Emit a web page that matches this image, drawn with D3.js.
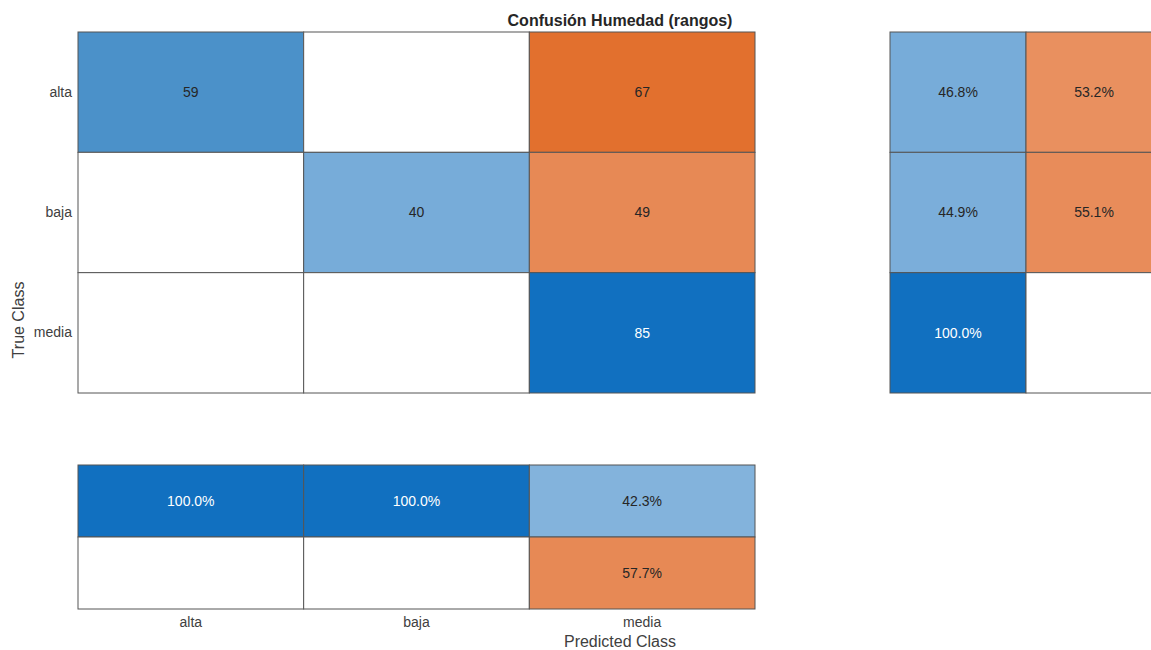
<!DOCTYPE html>
<html><head><meta charset="utf-8">
<script src="https://cdn.jsdelivr.net/npm/d3@7"></script>
<style>body{margin:0;background:#fff;} svg{display:block;font-family:"Liberation Sans",Arial,sans-serif;}</style>
</head><body>
<svg id="c" width="1151" height="650"></svg>
<script>
const categories = ["alta", "baja", "media"];
const counts = [[59, 0, 67], [0, 40, 49], [0, 0, 85]];
const rowSummaryCols = ["correct", "incorrect"];
const rowSummary = [[46.8, 53.2], [44.9, 55.1], [100.0, 0]];
const colSummaryRows = ["correct", "incorrect"];
const colSummary = [[100.0, 100.0, 42.3], [0, 0, 57.7]];
const title = "Confusión Humedad (rangos)";
const xLabel = "Predicted Class";
const yLabel = "True Class";

const svg = d3.select("#c");
const maxCount = d3.max(counts.flat());

const blue = d3.scaleLinear().domain([0, 0.45, 0.7, 1]).range(["#ffffff", "#7baeda", "#4a90c9", "#1170c0"]).clamp(true);
const orange = d3.scaleLinear().domain([0, 0.55, 0.79, 1]).range(["#ffffff", "#e88c5a", "#e2702e", "#d95319"]).clamp(true);

const x = d3.scaleBand().domain(categories).range([78, 755]);
const y = d3.scaleBand().domain(categories).range([32, 393]);
const xr = d3.scaleBand().domain(rowSummaryCols).range([890, 1162]);
const yb = d3.scaleBand().domain(colSummaryRows).range([465, 609]);

function cell(g, x0, y0, w, h, frac, isGood, label) {
  const fill = frac > 0 ? (isGood ? blue(frac) : orange(frac)) : "#ffffff";
  g.append("rect").attr("x", x0).attr("y", y0).attr("width", w).attr("height", h)
    .attr("fill", fill).attr("stroke", "#555").attr("stroke-width", 1);
  if (label !== null) {
    g.append("text").attr("x", x0 + w / 2).attr("y", y0 + h / 2).attr("dy", "0.35em")
      .attr("text-anchor", "middle").attr("font-size", 14)
      .attr("fill", frac > 0.85 ? "#ffffff" : "#262626").text(label);
  }
}

const gm = svg.append("g");
categories.forEach((tr, i) => {
  categories.forEach((pr, j) => {
    const v = counts[i][j];
    cell(gm, x(pr), y(tr), x.bandwidth(), y.bandwidth(), v / maxCount, i === j, v > 0 ? String(v) : null);
  });
});

const gr = svg.append("g");
categories.forEach((tr, i) => {
  rowSummaryCols.forEach((c, k) => {
    const v = rowSummary[i][k];
    cell(gr, xr(c), y(tr), xr.bandwidth(), y.bandwidth(), v / 100, k === 0, v > 0 ? v.toFixed(1) + "%" : null);
  });
});

const gb = svg.append("g");
colSummaryRows.forEach((r, k) => {
  categories.forEach((pr, j) => {
    const v = colSummary[k][j];
    cell(gb, x(pr), yb(r), x.bandwidth(), yb.bandwidth(), v / 100, k === 0, v > 0 ? v.toFixed(1) + "%" : null);
  });
});

// axes
const yAxis = d3.axisLeft(y).tickSize(0).tickPadding(6);
svg.append("g").attr("transform", "translate(78,0)").call(yAxis)
  .call(g => { g.select(".domain").remove(); g.selectAll("text").attr("font-size", 14).attr("fill", "#404040").attr("font-family", "Liberation Sans, Arial, sans-serif"); });
const xAxis = d3.axisBottom(x).tickSize(0).tickPadding(8);
svg.append("g").attr("transform", "translate(0,609)").call(xAxis)
  .call(g => { g.select(".domain").remove(); g.selectAll("text").attr("font-size", 14).attr("fill", "#404040").attr("font-family", "Liberation Sans, Arial, sans-serif"); });

svg.append("text").attr("x", 620).attr("y", 26).attr("text-anchor", "middle")
  .attr("font-size", 16).attr("font-weight", "bold").attr("fill", "#262626").text(title);
svg.append("text").attr("x", 620).attr("y", 647).attr("text-anchor", "middle")
  .attr("font-size", 16).attr("fill", "#404040").text(xLabel);
svg.append("text").attr("transform", "translate(24,320) rotate(-90)").attr("text-anchor", "middle")
  .attr("font-size", 16).attr("fill", "#404040").text(yLabel);
</script>
</body></html>
